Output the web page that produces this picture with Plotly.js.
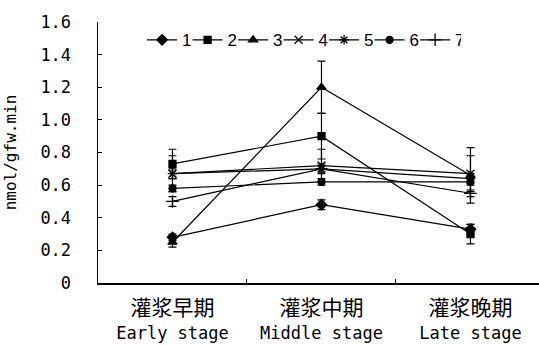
<!DOCTYPE html>
<html><head><meta charset="utf-8">
<script src="https://cdn.plot.ly/plotly-3.0.1.min.js"></script>
<style>html,body{margin:0;padding:0;background:#fff;}</style>
</head><body><div id="chart" style="width:539px;height:345px;"></div>
<script>
const stagesCN = ["灌浆早期", "灌浆中期", "灌浆晚期"];
const stagesEN = ["Early stage", "Middle stage", "Late stage"];
const seriesNames = ["1", "2", "3", "4", "5", "6", "7"];
const s1 = [0.28, 0.48, 0.33];
const s2 = [0.73, 0.90, 0.30];
const s3 = [0.25, 1.20, 0.66];
const s4 = [0.67, 0.72, 0.67];
const s5 = [0.67, 0.70, 0.64];
const s6 = [0.58, 0.62, 0.62];
const s7 = [0.50, 0.70, 0.55];
const e1 = [0.02, 0.03, 0.03];
const e2 = [0.09, 0.14, 0.06];
const e3 = [0.03, 0.16, 0.17];
const e4 = [0.11, 0.10, 0.11];
const e5 = [0.03, 0.03, 0.03];
const e6 = [0.02, 0.02, 0.02];
const e7 = [0.03, 0.02, 0.02];
const yTickVals = [0, 0.2, 0.4, 0.6, 0.8, 1.0, 1.2, 1.4, 1.6];
const yTickText = ["0", "0.2", "0.4", "0.6", "0.8", "1.0", "1.2", "1.4", "1.6"];
const yTitle = "\u00a0\u00a0\u00a0\u00a0\u00a0nmol/gfw.min";

const values = [s1, s2, s3, s4, s5, s6, s7];
const errors = [e1, e2, e3, e4, e5, e6, e7];
const symbols = ["diamond", "square", "triangle-up", "x-thin-open", "asterisk-open", "circle", "cross-thin-open"];
const sizes = [8, 7, 8, 8, 8, 7, 9];
const cats = stagesCN.map((c, i) =>
  '<span style="font-family:\'Noto Sans CJK SC\';font-size:21px">' + c + '</span><br>' +
  '<span style="font-family:\'DejaVu Sans Mono\';font-size:17px">' + stagesEN[i] + '</span>');

const traces = values.map((v, k) => ({
  x: cats, y: v, name: seriesNames[k], type: "scatter", mode: "lines+markers",
  line: {color: "#000", width: 1.2},
  marker: {symbol: symbols[k], size: sizes[k], color: "#000", line: {color: "#000", width: 1.3}},
  error_y: {type: "data", array: errors[k], visible: true, color: "#000", thickness: 1.2, width: 4}
}));

const layout = {
  width: 539, height: 345,
  margin: {l: 98, r: 0, t: 22, b: 62},
  paper_bgcolor: "#fff", plot_bgcolor: "#fff",
  showlegend: true,
  legend: {orientation: "h", x: 0.1, y: 0.93, xanchor: "left", yanchor: "middle",
    font: {family: "Liberation Sans", size: 17, color: "#000"}, bgcolor: "rgba(0,0,0,0)",
    itemwidth: 30, entrywidth: 0.5, entrywidthmode: "pixels", traceorder: "normal"},
  xaxis: {type: "category", range: [-0.5, 2.46], showline: true, linecolor: "#000", linewidth: 1.5,
    ticks: "inside", tickson: "boundaries", ticklen: 4, tickcolor: "#000", showgrid: false, zeroline: false,
    ticklabelstandoff: 8,
    tickfont: {family: "DejaVu Sans Mono", size: 18.5, color: "#000"}},
  yaxis: {range: [0, 1.6], showline: true, linecolor: "#000", linewidth: 1.5,
    ticks: "inside", ticklen: 4, tickcolor: "#000", showgrid: false, zeroline: false,
    tickvals: yTickVals, ticktext: yTickText, ticklabelstandoff: 22,
    tickfont: {family: "DejaVu Sans Mono", size: 17, color: "#000"},
    title: {text: yTitle, font: {family: "DejaVu Sans Mono", size: 16, color: "#000"}, standoff: 20}}
};
Plotly.newPlot("chart", traces, layout, {displayModeBar: false, staticPlot: true});
</script></body></html>
